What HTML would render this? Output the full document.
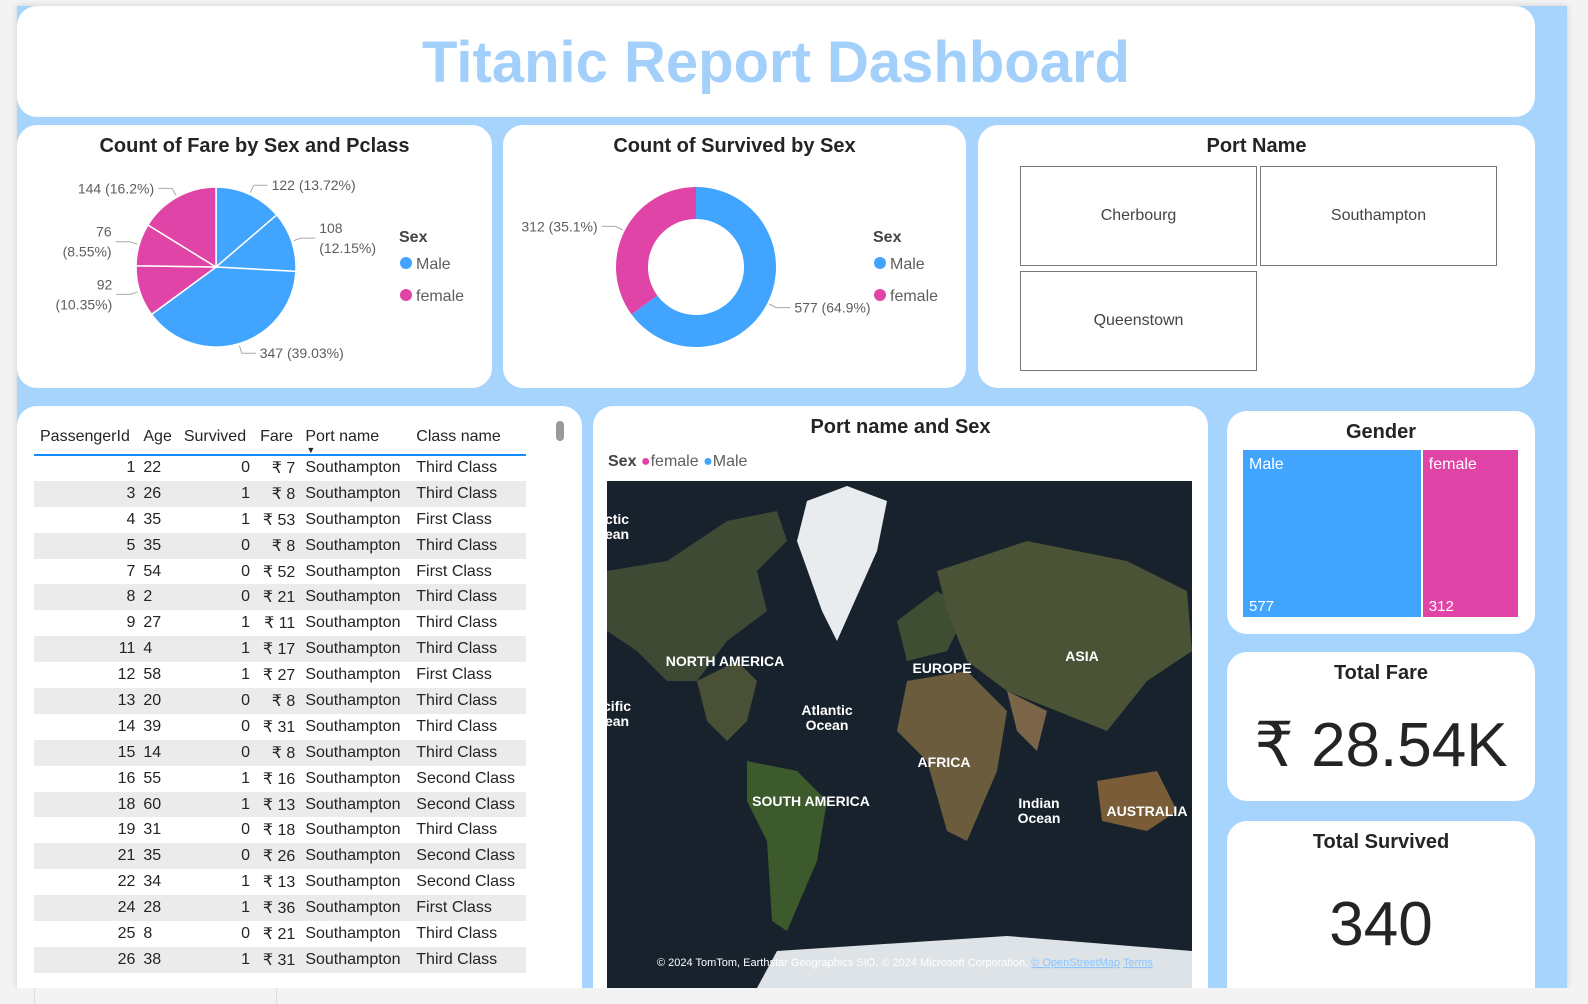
<!DOCTYPE html>
<html><head><meta charset="utf-8">
<style>
*{box-sizing:border-box;margin:0;padding:0}
body{width:1588px;height:1004px;background:#f3f3f3;position:relative;overflow:hidden;font-family:"Liberation Sans","DejaVu Sans",sans-serif;color:#252423}
#canvas{position:absolute;left:17px;top:6px;width:1550px;height:982px;background:#a6d4fc;box-shadow:0 0 6px rgba(0,0,0,.15)}
.card{position:absolute;background:#fff;border-radius:20px;overflow:hidden}
.ttl{position:absolute;left:0;right:0;text-align:center;font-weight:bold;font-size:20px;color:#252423;font-family:"Liberation Sans",sans-serif}
.abs{position:absolute}
table{border-collapse:collapse;font-size:16px;position:absolute;left:17px;top:13px;width:492px}
td,th{height:25.9px;padding:0 5px;white-space:nowrap;font-weight:normal;color:#252423}
th{height:36px;vertical-align:middle;text-align:left}
thead tr{border-bottom:2px solid #118dff}
tbody tr:nth-child(even){background:#ebebeb}
.r{text-align:right}
</style></head><body>
<div id="canvas"></div>

<div class="card" style="left:17px;top:6px;width:1518px;height:111px">
  <div class="abs" style="left:0;right:0;top:23px;text-align:center;font-size:58px;font-weight:bold;color:#a3d0fb">Titanic Report Dashboard</div>
</div>

<div class="card" style="left:17px;top:125px;width:475px;height:263px">
  <div class="ttl" style="top:10px">Count of Fare by Sex and Pclass</div>
  <svg class="abs" style="left:0;top:0" width="475" height="263" id="pieSvg"></svg>
</div>

<div class="card" style="left:503px;top:125px;width:463px;height:263px">
  <div class="ttl" style="top:10px">Count of Survived by Sex</div>
  <svg class="abs" style="left:0;top:0" width="463" height="263" id="donutSvg"></svg>
</div>

<div class="card" style="left:978px;top:125px;width:557px;height:263px">
  <div class="ttl" style="top:10px">Port Name</div>
  <div class="abs" style="left:42px;top:41px;width:237px;height:100px;border:1px solid #777;display:flex;align-items:center;justify-content:center;font-size:16px;color:#444">Cherbourg</div>
  <div class="abs" style="left:282px;top:41px;width:237px;height:100px;border:1px solid #777;display:flex;align-items:center;justify-content:center;font-size:16px;color:#444">Southampton</div>
  <div class="abs" style="left:42px;top:146px;width:237px;height:100px;border:1px solid #777;display:flex;align-items:center;justify-content:center;font-size:16px;color:#444">Queenstown</div>
</div>

<div class="card" style="left:17px;top:406px;width:565px;height:582px;border-radius:20px 20px 0 0">
  <table>
    <thead><tr>
      <th style="padding-left:6px">PassengerId</th>
      <th style="padding-left:3px">Age</th>
      <th>Survived</th>
      <th>Fare</th>
      <th style="position:relative">Port name<span style="position:absolute;left:6px;top:26px;font-size:9px">▼</span></th>
      <th>Class name</th>
    </tr></thead>
    <tbody id="tbody"></tbody>
  </table>
  <div class="abs" style="left:539px;top:15px;width:8px;height:20px;border-radius:4px;background:#999"></div>
</div>

<div class="card" style="left:593px;top:406px;width:615px;height:582px;border-radius:20px 20px 0 0">
  <div class="ttl" style="top:10px">Port name and Sex</div>
  <div class="abs" style="left:15px;top:47px;font-size:16px;color:#605e5c;white-space:nowrap"><b style="color:#444">Sex</b> <span style="color:#e044a7">●</span>female <span style="color:#41a4ff">●</span>Male</div>
  <svg class="abs" style="left:14px;top:75px" width="585" height="507" viewBox="0 0 585 507">
    <rect width="585" height="507" fill="#17222d"/>
    <path d="M60 80 L120 40 L170 30 L180 60 L150 90 L160 130 L120 160 L90 200 L60 200 L30 170 L0 150 L0 90 Z" fill="#3e4a33"/>
    <path d="M90 200 L130 180 L150 200 L140 240 L120 260 L100 240 Z" fill="#4a5035"/>
    <path d="M140 280 L190 290 L220 320 L210 380 L180 450 L165 440 L160 360 L140 320 Z" fill="#3c5a2c"/>
    <path d="M200 20 L240 5 L280 20 L270 70 L230 160 L215 130 L190 60 Z" fill="#e8ecef"/>
    <path d="M290 140 L330 110 L360 130 L340 170 L300 180 Z" fill="#3f4e33"/>
    <path d="M300 200 L360 190 L400 230 L390 290 L360 360 L340 350 L320 280 L290 250 Z" fill="#6a5c3d"/>
    <path d="M330 90 L420 60 L520 80 L580 110 L585 170 L540 200 L500 250 L450 230 L400 210 L360 180 L340 130 Z" fill="#4b5336"/>
    <path d="M400 210 L440 230 L430 270 L410 250 Z" fill="#7a6548"/>
    <path d="M490 300 L550 290 L570 330 L540 350 L495 340 Z" fill="#7a5c38"/>
    <path d="M170 470 L400 455 L585 470 L585 507 L150 507 Z" fill="#dde3e6"/>
    <g fill="#fff" font-weight="bold" font-size="14" font-family="Liberation Sans,sans-serif" text-anchor="middle">
      <text x="118" y="185">NORTH AMERICA</text><text x="335" y="192">EUROPE</text>
      <text x="475" y="180">ASIA</text><text x="337" y="286">AFRICA</text>
      <text x="204" y="325">SOUTH AMERICA</text><text x="540" y="335">AUSTRALIA</text>
      <text x="220" y="234">Atlantic</text><text x="220" y="249">Ocean</text>
      <text x="432" y="327">Indian</text><text x="432" y="342">Ocean</text>
      <text x="10" y="43">ctic</text><text x="10" y="58">ean</text>
      <text x="10" y="230">cific</text><text x="10" y="245">ean</text>
    </g>
    <text x="50" y="485" fill="#fff" font-size="11" font-family="Liberation Sans,sans-serif">© 2024 TomTom, Earthstar Geographics SIO, © 2024 Microsoft Corporation, <tspan fill="#8cc4ff" text-decoration="underline">© OpenStreetMap</tspan>  <tspan fill="#8cc4ff" text-decoration="underline">Terms</tspan></text>
  </svg>
</div>

<div class="card" style="left:1227px;top:411px;width:308px;height:223px">
  <div class="ttl" style="top:10px">Gender</div>
  <div id="treemap" class="abs" style="left:16px;top:39px;width:277px;height:167px"></div>
</div>

<div class="card" style="left:1227px;top:652px;width:308px;height:149px">
  <div class="ttl" style="top:10px">Total Fare</div>
  <div class="abs" style="left:0;right:0;top:56px;text-align:center;font-size:62px;color:#252423">₹ 28.54K</div>
</div>

<div class="card" style="left:1227px;top:821px;width:308px;height:167px;border-radius:20px 20px 0 0">
  <div class="ttl" style="top:10px">Total Survived</div>
  <div class="abs" style="left:0;right:0;top:68px;text-align:center;font-size:62px;color:#252423">340</div>
</div>

<div class="abs" style="left:0;top:988px;width:1588px;height:16px;background:#f3f3f3;z-index:10"></div>
<div class="abs" style="left:34px;top:988px;width:243px;height:16px;border-left:1px solid #ddd;border-right:1px solid #ddd;z-index:11"></div>

<script>
const NS='http://www.w3.org/2000/svg';
const MALE='#41a4ff', FEMALE='#e044a7';
const pieLabels=['122 (13.72%)','108\n(12.15%)','347 (39.03%)','92\n(10.35%)','76\n(8.55%)','144 (16.2%)'];
const pieValues=[122,108,347,92,76,144];
const pieSex=['Male','Male','Male','female','female','female'];
const donutCats=['Male','female'];
const donutValues=[577,312];
const tIds=[1,3,4,5,7,8,9,11,12,13,14,15,16,18,19,21,22,24,25,26];
const tAge=[22,26,35,35,54,2,27,4,58,20,39,14,55,60,31,35,34,28,8,38];
const tSurv=[0,1,1,0,0,0,1,1,1,0,0,0,1,1,0,0,1,1,0,1];
const tFare=[7,8,53,8,52,21,11,17,27,8,31,8,16,13,18,26,13,36,21,31];
const tPort=Array(20).fill('Southampton');
const tClass=['Third','Third','First','Third','First','Third','Third','Third','First','Third','Third','Third','Second','Second','Third','Second','Second','First','Third','Third'];

function el(tag,attrs,parent){const e=document.createElementNS(NS,tag);for(const k in attrs)e.setAttribute(k,attrs[k]);parent.appendChild(e);return e;}
function arcPath(cx,cy,r,ri,a0,a1){
  const p=(a,rr)=>[cx+rr*Math.sin(a),cy-rr*Math.cos(a)];
  const lg=(a1-a0)>Math.PI?1:0;
  const [x0,y0]=p(a0,r),[x1,y1]=p(a1,r);
  if(!ri) return `M${cx},${cy}L${x0},${y0}A${r},${r} 0 ${lg} 1 ${x1},${y1}Z`;
  const [x2,y2]=p(a1,ri),[x3,y3]=p(a0,ri);
  return `M${x0},${y0}A${r},${r} 0 ${lg} 1 ${x1},${y1}L${x2},${y2}A${ri},${ri} 0 ${lg} 0 ${x3},${y3}Z`;
}
function label(svg,cx,cy,r,mid,text){
  const sx=cx+(r+2)*Math.sin(mid), sy=cy-(r+2)*Math.cos(mid);
  const ex=cx+(r+10)*Math.sin(mid), ey=cy-(r+10)*Math.cos(mid);
  const right=Math.sin(mid)>=0;
  const hx=ex+(right?14:-14);
  el('polyline',{points:`${sx},${sy} ${ex},${ey} ${hx},${ey}`,fill:'none',stroke:'#aaa'},svg);
  const lines=text.split('\n');
  const t=el('text',{'font-size':'14','fill':'#605e5c','text-anchor':right?'start':'end','font-family':'Liberation Sans,sans-serif'},svg);
  
  
  const y0=ey+5-(lines.length-1)*10;
  lines.forEach((ln,i)=>{const s=el('tspan',{x:hx+(right?4:-4),y:y0+i*20},t);s.textContent=ln;});
}
function legend(svg,x,y){
  const t=el('text',{x:x,y:y,'font-size':'16','font-weight':'bold','fill':'#444','font-family':'Liberation Sans,sans-serif'},svg);t.textContent='Sex';
  [['Male',MALE],['female',FEMALE]].forEach((d,i)=>{
    const g=el('g',{},svg);
    
    
    el('circle',{cx:x+7,cy:y+21+i*32,r:6,fill:d[1]},g);
    const tt=el('text',{x:x+17,y:y+27+i*32,'font-size':'16','fill':'#605e5c','font-family':'Liberation Sans,sans-serif'},g);tt.textContent=d[0];
  });
}
(function(){
  const svg=document.getElementById('pieSvg');const cx=199,cy=142,r=80;
  const tot=pieValues.reduce((a,b)=>a+b,0);let a=0;
  pieValues.forEach((v,i)=>{
    const a1=a+v/tot*2*Math.PI;
    const p=el('path',{d:arcPath(cx,cy,r,0,a,a1),fill:pieSex[i]==='Male'?MALE:FEMALE,stroke:'#fff','stroke-width':1.5},svg);
    
    
    label(svg,cx,cy,r,(a+a1)/2,pieLabels[i]);
    a=a1;
  });
  legend(svg,382,117);
})();
(function(){
  const svg=document.getElementById('donutSvg');const cx=193,cy=142,r=80,ri=48;
  const tot=donutValues.reduce((a,b)=>a+b,0);let a=0;
  donutValues.forEach((v,i)=>{
    const a1=a+v/tot*2*Math.PI;
    const p=el('path',{d:arcPath(cx,cy,r,ri,a,a1),fill:donutCats[i]==='Male'?MALE:FEMALE},svg);
    
    
    label(svg,cx,cy,r,(a+a1)/2,v+' ('+(v/tot*100).toFixed(1)+'%)');
    a=a1;
  });
  legend(svg,370,117);
})();
(function(){
  const tb=document.getElementById('tbody');
  tIds.forEach((id,i)=>{
    const tr=document.createElement('tr');
    
    
    tr.innerHTML=`<td class="r">${id}</td><td style="padding-left:3px">${tAge[i]}</td><td class="r">${tSurv[i]}</td><td class="r">₹ ${tFare[i]}</td><td>${tPort[i]}</td><td>${tClass[i]} Class</td>`;
    tb.appendChild(tr);
  });
})();
(function(){
  const tm=document.getElementById('treemap');const W=277,H=167;
  const tot=donutValues.reduce((a,b)=>a+b,0);let x=0;
  donutValues.forEach((v,i)=>{
    const w=v/tot*W;
    const d=document.createElement('div');
    
    
    d.style.cssText=`position:absolute;left:${x}px;top:0;width:${w-2}px;height:${H}px;background:${donutCats[i]==='Male'?MALE:FEMALE};color:#fff;font-size:16px`;
    d.innerHTML=`<span style="position:absolute;left:6px;top:6px">${donutCats[i]}</span><span style="position:absolute;left:6px;bottom:2px;font-size:15px">${v}</span>`;
    tm.appendChild(d);x+=w;
  });
})();
</script>
</body></html>
